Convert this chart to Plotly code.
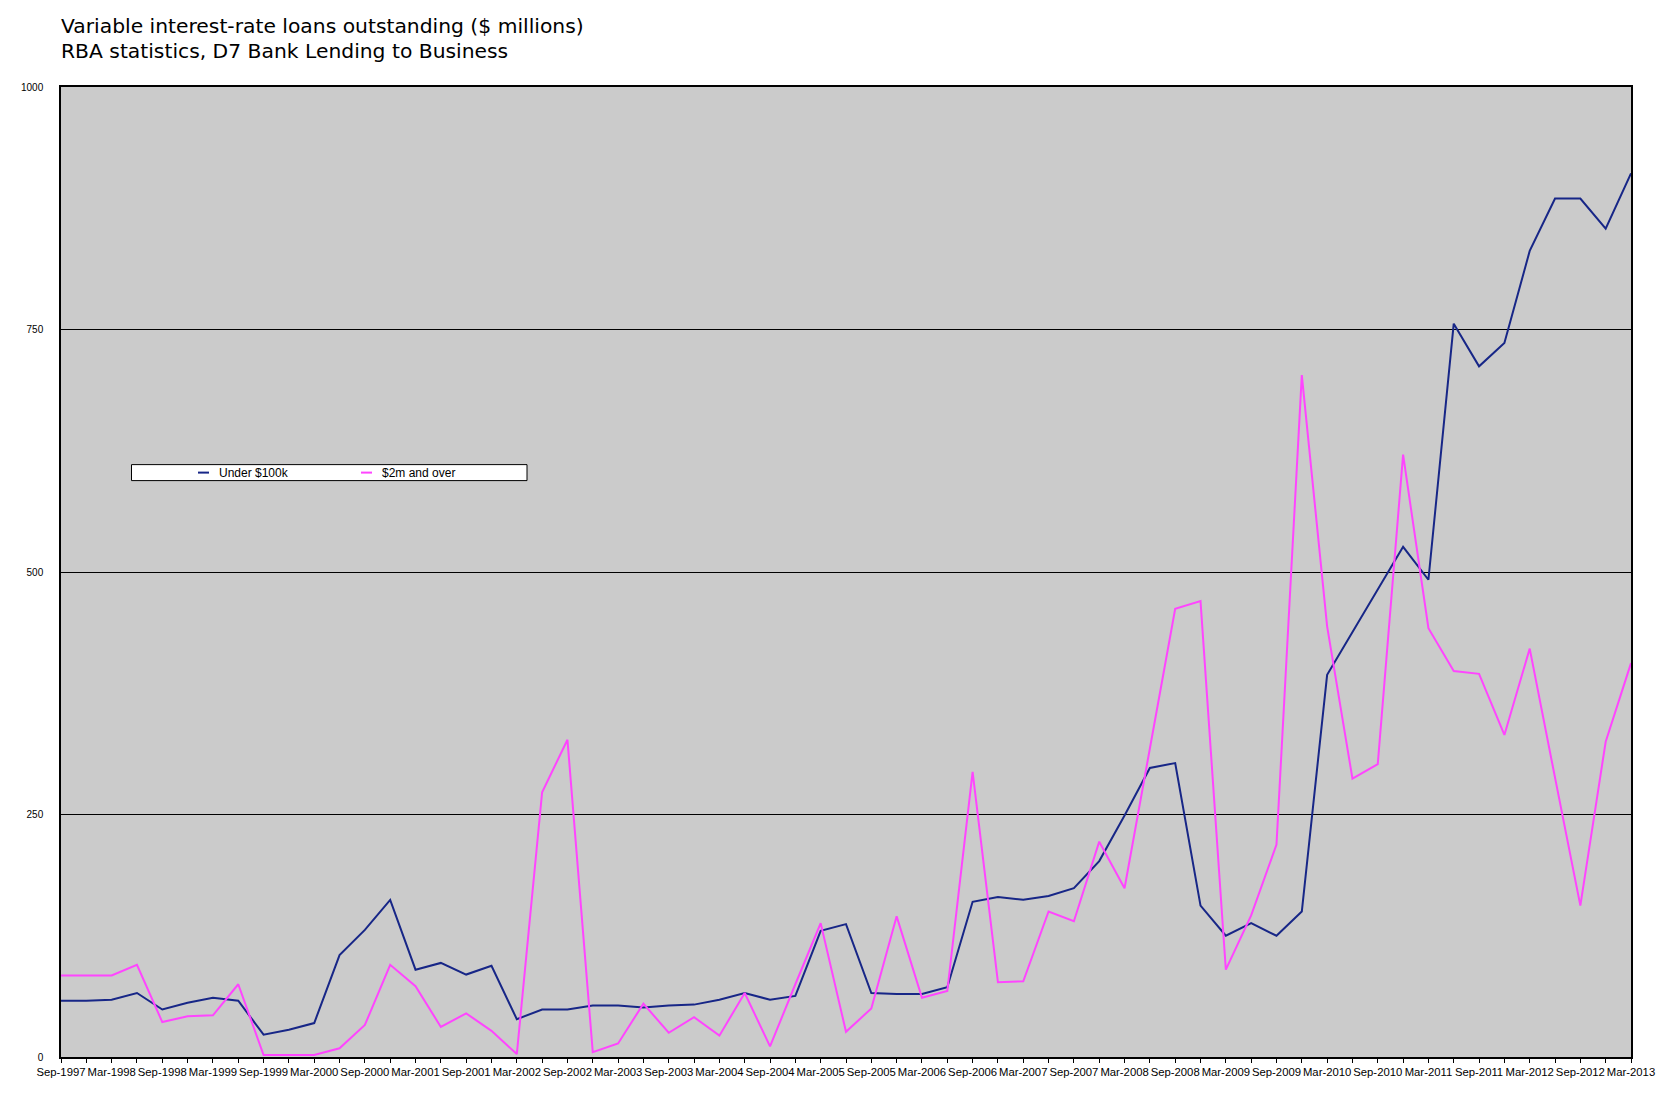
import plotly.graph_objects as go

quarters = []
for y in range(1997, 2014):
    for m in ["Mar", "Jun", "Sep", "Dec"]:
        quarters.append(f"{m}-{y}")
start = quarters.index("Sep-1997")
end = quarters.index("Mar-2013")
quarters = quarters[start:end + 1]

under_100k = [58, 58, 59, 66, 49, 56, 61, 58, 23, 28, 35, 105, 131, 162, 90, 97, 85, 94,
              39, 49, 49, 53, 53, 51, 53, 54, 59, 66, 59, 63, 130, 137, 66, 65, 65, 72,
              160, 165, 162, 166, 174, 202, 249, 298, 303, 156, 125, 138, 125, 150, 394,
              438, 482, 526, 492, 756, 712, 736, 831, 885, 885, 854, 911]
over_2m = [84, 84, 84, 95, 36, 42, 43, 75, 2, 2, 2, 9, 33, 95, 73, 31, 45, 27,
           3, 273, 327, 5, 14, 55, 25, 41, 22, 66, 11, 75, 138, 26, 50, 145, 61, 68,
           294, 77, 78, 150, 140, 222, 174, 318, 462, 470, 90, 146, 219, 703, 444,
           287, 302, 621, 442, 398, 395, 332, 421, 288, 156, 325, 406]

series_names = ["Under $100k", "$2m and over"]
series_colors = ["#172687", "#ff45ff"]
title_lines = ["Variable interest-rate loans outstanding ($ millions)",
               "RBA statistics, D7 Bank Lending to Business"]
y_ticks = [0, 250, 500, 750, 1000]

xs = list(range(len(quarters)))
tick_text = [q if i % 2 == 0 else "" for i, q in enumerate(quarters)]

fig = go.Figure()
for name, vals, col in zip(series_names, [under_100k, over_2m], series_colors):
    fig.add_trace(go.Scatter(x=xs, y=vals, mode="lines", name=name,
                             line=dict(color=col, width=2), showlegend=False))

OFF = 8  # page body margin
W, H = 1675, 1113
# target plot area on screen: x 61..1631, y 86.5..1057.5
L, T = 61 - OFF, 86.5 - OFF
R = W + OFF - 1631
B = H + OFF - 1057.5
ph = H - T - B
pw = W - L - R

def py(ypx):
    return (H - B - (ypx - OFF)) / ph

def px(xpx):
    return ((xpx - OFF) - L) / pw

fig.update_layout(
    width=W, height=H,
    margin=dict(l=L, r=R, t=T, b=B),
    paper_bgcolor="white",
    plot_bgcolor="#cbcbcb",
    font=dict(family="Liberation Sans, Arial, sans-serif", size=11, color="black"),
)
fig.update_xaxes(
    range=[0, len(quarters) - 1], tickmode="array", tickvals=xs, ticktext=tick_text,
    ticks="outside", ticklen=4, tickcolor="black", tickwidth=1,
    showline=True, linecolor="black", linewidth=1.5, mirror=True,
    showgrid=False, zeroline=False, tickangle=0,
    tickfont=dict(size=11.3),
)
fig.update_yaxes(
    range=[0, 1000], tickvals=y_ticks, showgrid=True, gridcolor="black", gridwidth=1,
    showline=True, linecolor="black", linewidth=1.5, mirror=True, zeroline=False,
    ticks="", ticklabelstandoff=14, tickfont=dict(size=10),
)

# titles
for txt, ypx in zip(title_lines, [25.6, 50.0]):
    fig.add_annotation(text=txt, xref="paper", yref="paper", x=px(59), y=py(ypx),
                       xanchor="left", yanchor="middle", showarrow=False,
                       font=dict(family="DejaVu Sans, Verdana, sans-serif", size=20.3, color="black"))

# legend box (manual)
fig.add_shape(type="rect", xref="paper", yref="paper",
              x0=px(131.5), x1=px(527), y0=py(480.5), y1=py(464.5),
              line=dict(color="black", width=1), fillcolor="white", layer="above")
leg_items = [(198, 217), (361, 380)]
for (sx, tx), name, col in zip(leg_items, series_names, series_colors):
    fig.add_shape(type="line", xref="paper", yref="paper",
                  x0=px(sx), x1=px(sx + 11), y0=py(472.5), y1=py(472.5),
                  line=dict(color=col, width=2), layer="above")
    fig.add_annotation(text=name, xref="paper", yref="paper", x=px(tx), y=py(473),
                       xanchor="left", yanchor="middle", showarrow=False,
                       font=dict(size=12, color="black"))

fig.write_html("out.html")
